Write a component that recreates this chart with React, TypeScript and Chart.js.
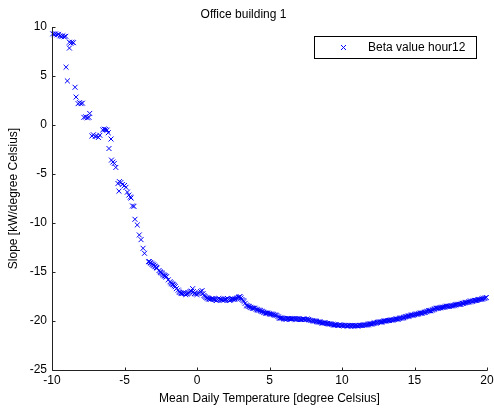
import React, { useEffect, useRef } from "react";
import { Chart, registerables } from "chart.js";

Chart.register(...registerables);

const chartTitle = "Office building 1";
const xAxisTitle = "Mean Daily Temperature [degree Celsius]";
const yAxisTitle = "Slope [kW/degree Celsius]";
const seriesLabel = "Beta value hour12";

const xTicks = [-10, -5, 0, 5, 10, 15, 20];
const yTicks = [-25, -20, -15, -10, -5, 0, 5, 10];

const temperature = [
  -9.95, -9.85, -9.75, -9.65, -9.55, -9.45, -9.35, -9.25, -9.15, -9.05,
  -8.8, -8.7, -8.62, -8.52, -8.8, -9.03, -8.94, -8.41, -8.34,
  -8.2, -8.1, -8.0, -7.9, -7.8, -7.68, -7.56, -7.45, -7.4,
  -7.25, -7.15, -7.02, -6.92, -6.8, -6.7, -6.5, -6.4, -6.3, -6.2, -6.12,
  -5.93, -6.07, -5.9, -5.8, -5.7, -5.6, -5.45, -5.35, -5.25, -5.15, -5.0, -4.9,
  -5.38, -4.8, -4.7, -4.6, -4.55, -4.45, -4.35, -4.28, -4.12, -3.98, -3.86,
  -3.72, -3.62, -3.35, -3.22, -3.1, -2.98, -2.86, -2.75, -2.55, -2.44, -2.32,
  -2.2, -2.1, -1.86, -1.75, -1.62, -1.5, -1.3, -1.18, -1.05, -0.92, -0.78,
  -0.62, -0.48, -0.3, -0.18, 0.0, 0.15, 0.35, 0.48, 0.62, 0.76, 0.9, 1.05,
  1.2, 1.35, 1.5, 1.65, 1.8, 1.95, 2.1, 2.25, 2.4, 2.55, 2.7, 2.85, 2.97,
  3.1, 3.25, 3.4, 3.55, 3.7, 3.85, 4.0, 4.15, 4.3, 4.45, 4.6, 4.75, 4.9,
  5.05, 5.2, 5.35, 5.5, 5.65, 5.8, 5.95, 6.1, 6.25, 6.4, 6.55, 6.7, 6.85,
  7.0, 7.15, 7.3, 7.45, 7.6, 7.75, 7.95, 8.1, 8.25, 8.4, 8.55, 8.7, 8.85,
  9.0, 9.15, 9.3, 9.45, 9.6, 9.75, 9.9, 10.05, 10.2, 10.35, 10.5, 10.65,
  10.8, 10.95, 11.1, 11.25, 11.4, 11.55, 11.7, 11.85, 12.0, 12.15, 12.3,
  12.45, 12.6, 12.75, 12.9, 13.05, 13.2, 13.35, 13.5, 13.65, 13.8, 13.95,
  14.1, 14.25, 14.4, 14.55, 14.7, 14.85, 15.0, 15.15, 15.3, 15.45, 15.6,
  15.75, 15.9, 16.05, 16.2, 16.35, 16.5, 16.65, 16.8, 16.95, 17.1, 17.25,
  17.4, 17.55, 17.7, 17.85, 18.0, 18.15, 18.3, 18.45, 18.6, 18.75, 18.9,
  19.05, 19.2, 19.35, 19.5, 19.65, 19.8, 19.95,
];

const slope = [
  9.3, 9.25, 9.3, 9.2, 9.25, 9.1, 9.05, 9.1, 9.0, 9.05,
  8.45, 8.35, 8.45, 8.4, 7.85, 5.9, 4.5, 3.85, 2.85,
  2.18, 2.28, 2.18, 2.23, 0.78, 0.83, 0.73, 0.78, 1.18,
  -1.12, -1.0, -1.17, -1.12, -1.27, -1.05, -0.5, -0.42, -0.46, -0.52, -0.79,
  -1.43, -2.4, -3.58, -3.78, -3.92, -4.33, -5.97, -5.78, -5.87, -6.07, -6.17, -6.36,
  -6.75, -6.85, -7.15, -7.35, -7.45, -8.26, -8.3, -9.62, -10.2, -11.22, -11.7,
  -12.58, -13.09, -13.95, -14.05, -14.2, -14.3, -14.46, -14.6, -14.97, -15.1, -15.3,
  -15.4, -15.48, -15.99, -16.2, -16.3, -16.5, -16.85, -17.1, -17.2, -17.1, -17.3,
  -17.2, -17.0, -16.7, -17.2, -17.3, -17.1, -16.9, -17.4, -17.6, -17.7, -17.8, -17.7,
  -17.8, -17.9, -17.7, -17.8, -17.9, -17.8, -17.7, -17.9, -17.8, -17.8, -17.7, -17.6, -17.5,
  -17.8, -18.0, -18.4, -18.5, -18.6, -18.7, -18.7, -18.85, -18.9, -19.0, -19.1, -19.2, -19.2,
  -19.3, -19.3, -19.4, -19.45, -19.65, -19.7, -19.75, -19.8, -19.75, -19.8, -19.8, -19.75, -19.8,
  -19.8, -19.85, -19.8, -19.85, -19.8, -19.9, -19.95, -20.0, -20.05, -20.1, -20.15, -20.2, -20.2,
  -20.25, -20.3, -20.35, -20.4, -20.4, -20.45, -20.4, -20.45, -20.45, -20.5, -20.45, -20.5,
  -20.5, -20.45, -20.5, -20.45, -20.45, -20.4, -20.4, -20.35, -20.3, -20.25, -20.2,
  -20.15, -20.1, -20.1, -20.0, -20.0, -19.95, -19.9, -19.9, -19.85, -19.8, -19.75,
  -19.7, -19.65, -19.55, -19.5, -19.45, -19.4, -19.35, -19.3, -19.25, -19.2, -19.15,
  -19.1, -19.0, -18.95, -18.9, -18.8, -18.7, -18.7, -18.65, -18.6, -18.55, -18.5,
  -18.5, -18.45, -18.4, -18.35, -18.3, -18.3, -18.2, -18.15, -18.1, -18.05, -18.0,
  -17.95, -17.9, -17.85, -17.8, -17.75, -17.7, -17.6,
];

const temperatureExtra = [
  -3.28, -3.16, -3.04, -2.92, -2.8, -2.62, -2.5, -2.38, -2.26, -2.15, -1.98,
  -1.8, -1.68, -1.56, -1.42, -1.24, -1.1, -0.98, -0.85, -0.7, -0.55, -0.4,
  -0.25, -0.1, 0.08, 0.25, 0.42, 0.55, 0.7, 0.83, 0.97, 1.12, 1.28, 1.42,
  1.58, 1.72, 1.88, 2.02, 2.18, 2.32, 2.48, 2.62, 2.78, 2.9, 3.03, 3.18,
  3.32, 3.48, 3.62, 3.78, 3.92, 4.08, 4.22, 4.38, 4.52, 4.68, 4.82, 4.98,
  5.12, 5.28, 5.42, 5.58, 5.72, 5.88, 6.02, 6.18, 6.32, 6.48, 6.62, 6.78,
  6.92, 7.08, 7.22, 7.38, 7.52, 7.68, 7.85, 8.02, 8.18, 8.32, 8.48, 8.62,
  8.78, 8.92, 9.08, 9.22, 9.38, 9.52, 9.68, 9.82, 9.98, 10.12, 10.28, 10.42,
  10.58, 10.72, 10.88, 11.02, 11.18, 11.32, 11.48, 11.62, 11.78, 11.92,
  12.08, 12.22, 12.38, 12.52, 12.68, 12.82, 12.98, 13.12, 13.28, 13.42,
  13.58, 13.72, 13.88, 14.02, 14.18, 14.32, 14.48, 14.62, 14.78, 14.92,
  15.08, 15.22, 15.38, 15.52, 15.68, 15.82, 15.98, 16.12, 16.28, 16.42,
  16.58, 16.72, 16.88, 17.02, 17.18, 17.32, 17.48, 17.62, 17.78, 17.92,
  18.08, 18.22, 18.38, 18.52, 18.68, 18.82, 18.98, 19.12, 19.28, 19.42,
  19.58, 19.72, 19.88,
];

const slopeExtra = [
  -13.95, -14.1, -14.25, -14.4, -14.55, -14.85, -15.05, -15.2, -15.35, -15.5, -15.8,
  -16.1, -16.25, -16.4, -16.7, -17.0, -17.15, -17.2, -17.2, -17.25, -17.1, -16.95,
  -17.0, -17.25, -17.2, -17.0, -17.2, -17.5, -17.65, -17.75, -17.75, -17.75, -17.85, -17.8,
  -17.75, -17.85, -17.85, -17.75, -17.8, -17.85, -17.75, -17.75, -17.65, -17.55, -17.65, -17.9,
  -18.2, -18.45, -18.55, -18.65, -18.7, -18.8, -18.9, -18.95, -19.05, -19.15, -19.2, -19.25,
  -19.3, -19.35, -19.4, -19.55, -19.7, -19.7, -19.8, -19.8, -19.75, -19.8, -19.75, -19.8,
  -19.8, -19.8, -19.85, -19.8, -19.85, -19.85, -19.95, -20.0, -20.0, -20.1, -20.1, -20.2,
  -20.2, -20.25, -20.3, -20.3, -20.35, -20.4, -20.45, -20.4, -20.45, -20.5, -20.45, -20.5,
  -20.5, -20.45, -20.5, -20.5, -20.45, -20.45, -20.4, -20.4, -20.35, -20.3,
  -20.3, -20.2, -20.2, -20.1, -20.1, -20.05, -20.0, -19.95, -19.95, -19.9,
  -19.85, -19.8, -19.8, -19.7, -19.7, -19.6, -19.55, -19.5, -19.4, -19.4,
  -19.3, -19.3, -19.2, -19.2, -19.1, -19.05, -18.95, -18.95, -18.85, -18.75,
  -18.7, -18.65, -18.6, -18.6, -18.5, -18.5, -18.45, -18.45, -18.4, -18.3,
  -18.3, -18.25, -18.2, -18.1, -18.1, -18.0, -18.0, -17.9, -17.9, -17.8,
  -17.8, -17.7, -17.65,
];

const FONT = "'Liberation Sans', Arial, Helvetica, sans-serif";
const MARKER_COLOR = "#0000ff";
const TICK_LEN = 3;

const axesPlugin = {
  id: "matlabAxes",
  afterDatasetsDraw(chart: any) {
    const { ctx, chartArea, scales } = chart;
    const l = Math.round(chartArea.left) + 0.5;
    const r = Math.round(chartArea.right);
    const t = Math.round(chartArea.top);
    const b = Math.round(chartArea.bottom) + 0.5;
    ctx.save();
    ctx.strokeStyle = "#222222";
    ctx.lineWidth = 1;
    ctx.beginPath();
    ctx.moveTo(l, t);
    ctx.lineTo(l, b);
    ctx.lineTo(r + 0.5, b);
    for (const v of xTicks) {
      const px = Math.round(scales.x.getPixelForValue(v)) + 0.5;
      ctx.moveTo(px, b);
      ctx.lineTo(px, b - TICK_LEN);
    }
    for (const v of yTicks) {
      const py = Math.round(scales.y.getPixelForValue(v)) + 0.5;
      ctx.moveTo(l, py);
      ctx.lineTo(l + TICK_LEN, py);
    }
    ctx.stroke();

    // legend box
    const bx = 314.5, by = 36.5, bw = 162, bh = 22;
    ctx.strokeStyle = "#000000";
    ctx.fillStyle = "#ffffff";
    ctx.fillRect(bx, by, bw, bh);
    ctx.strokeRect(bx, by, bw, bh);
    const mx = 343.5, my = by + bh / 2;
    ctx.strokeStyle = MARKER_COLOR;
    ctx.beginPath();
    ctx.moveTo(mx - 2.5, my - 2.5);
    ctx.lineTo(mx + 2.5, my + 2.5);
    ctx.moveTo(mx - 2.5, my + 2.5);
    ctx.lineTo(mx + 2.5, my - 2.5);
    ctx.stroke();
    ctx.fillStyle = "#000000";
    ctx.font = `12px ${FONT}`;
    ctx.textBaseline = "middle";
    ctx.textAlign = "left";
    ctx.fillText(seriesLabel, 368, my + 0.5);
    ctx.restore();
  },
};

export default function App() {
  const canvasRef = useRef<HTMLCanvasElement | null>(null);

  useEffect(() => {
    if (!canvasRef.current) return;
    Chart.defaults.font.family = FONT;
    Chart.defaults.font.size = 12;
    Chart.defaults.color = "#000000";
    const points = temperature
      .map((x, i) => ({ x, y: slope[i] }))
      .concat(temperatureExtra.map((x, i) => ({ x, y: slopeExtra[i] })));
    const chart = new Chart(canvasRef.current, {
      type: "scatter",
      data: {
        datasets: [
          {
            label: seriesLabel,
            data: points,
            pointStyle: "crossRot",
            pointRadius: 3.5,
            pointBorderColor: MARKER_COLOR,
            pointBackgroundColor: MARKER_COLOR,
            pointBorderWidth: 1,
            showLine: false,
          },
        ],
      },
      options: {
        animation: false,
        responsive: false,
        devicePixelRatio: 1,
        clip: false,
        layout: { padding: { left: 0, right: 7, top: 0, bottom: 0 }, autoPadding: false },
        plugins: {
          legend: { display: false },
          tooltip: { enabled: false },
          title: {
            display: true,
            text: chartTitle,
            color: "#000000",
            font: { size: 12, weight: "normal", family: FONT },
            padding: { top: 7, bottom: 5.6 },
          },
        },
        scales: {
          x: {
            type: "linear",
            min: -10,
            max: 20,
            afterBuildTicks: (scale: any) => {
              scale.ticks = xTicks.map((v) => ({ value: v }));
            },
            afterFit: (scale: any) => {
              scale.height = 40;
              scale.paddingLeft = 0;
              scale.paddingRight = 0;
            },
            grid: { display: false, drawTicks: false },
            border: { display: false },
            ticks: { padding: 3, color: "#000000", font: { size: 12 } },
            title: {
              display: true,
              text: xAxisTitle,
              color: "#000000",
              font: { size: 12 },
              padding: { top: 0, bottom: 4 },
            },
          },
          y: {
            type: "linear",
            min: -25,
            max: 10,
            afterBuildTicks: (scale: any) => {
              scale.ticks = yTicks.map((v) => ({ value: v }));
            },
            afterFit: (scale: any) => {
              scale.width = 52;
              scale.paddingTop = 0;
              scale.paddingBottom = 0;
            },
            grid: { display: false, drawTicks: false },
            border: { display: false },
            ticks: { padding: 5, color: "#000000", font: { size: 12 } },
            title: {
              display: true,
              text: yAxisTitle,
              color: "#000000",
              font: { size: 12 },
              padding: { top: 6, bottom: 0 },
            },
          },
        },
      },
      plugins: [axesPlugin],
    } as any);
    return () => chart.destroy();
  }, []);

  return (
    <div style={{ position: "fixed", left: 0, top: 0, width: 494, height: 410, background: "#ffffff" }}>
      <canvas ref={canvasRef} width={494} height={410} style={{ width: 494, height: 410, display: "block" }} />
    </div>
  );
}
